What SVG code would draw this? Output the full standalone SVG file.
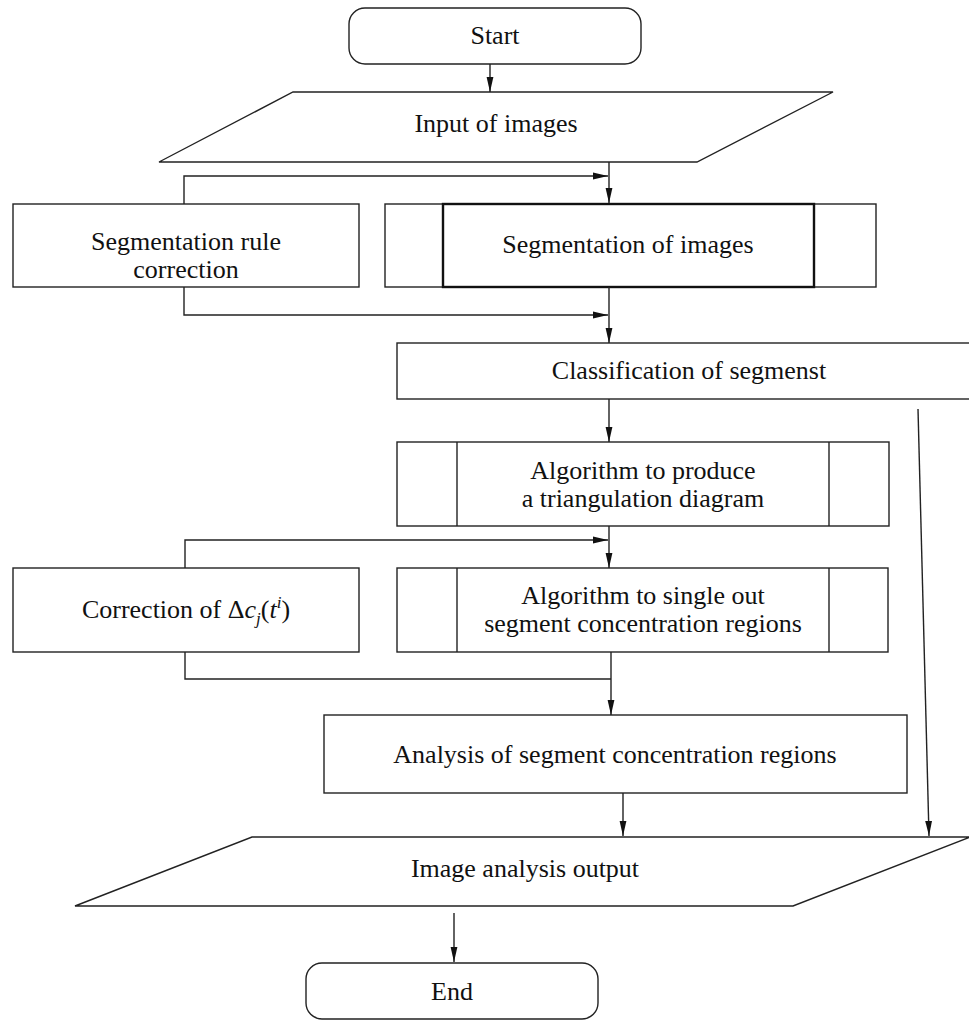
<svg xmlns="http://www.w3.org/2000/svg" width="969" height="1020" viewBox="0 0 969 1020">
<style>
.s{fill:#fff;stroke:#222;stroke-width:1.4}
.thick{fill:none;stroke:#111;stroke-width:2.4}
.ln{fill:none;stroke:#222;stroke-width:1.4}
.t{font-family:"Liberation Serif","Times New Roman",serif;font-size:26px;fill:#111;text-anchor:middle}
.c{fill:none;stroke:#222;stroke-width:1.4}
</style>
<defs>
<marker id="ah" markerWidth="16" markerHeight="8" refX="15" refY="4" orient="auto" markerUnits="userSpaceOnUse">
<path d="M0,0.6 L15,4 L0,7.4 z" fill="#111"/>
</marker>
</defs>
<rect width="969" height="1020" fill="#fff"/>
<g id="start">
<rect class="s" x="349" y="8" width="292" height="56" rx="16"/>
<text class="t" x="495" y="44">Start</text>
</g>
<g id="input">
<polygon class="s" points="293,92 833,92 697,162 159,162"/>
<text class="t" x="496" y="132">Input of images</text>
</g>
<g id="rule">
<rect class="s" x="13" y="204" width="346" height="83"/>
<text class="t" x="186" y="250">Segmentation rule</text>
<text class="t" x="186" y="278">correction</text>
</g>
<g id="seg">
<rect class="s" x="385" y="204" width="491" height="83"/>
<rect class="thick" x="443" y="204" width="371" height="83"/>
<text class="t" x="628" y="253">Segmentation of images</text>
</g>
<g id="classif">
<rect class="s" x="397" y="343" width="590" height="56"/>
<text class="t" x="689" y="379">Classification of segmenst</text>
</g>
<g id="alg1">
<rect class="s" x="397" y="442" width="492" height="84"/>
<line class="ln" x1="457" y1="442" x2="457" y2="526"/>
<line class="ln" x1="829" y1="442" x2="829" y2="526"/>
<text class="t" x="643" y="479">Algorithm to produce</text>
<text class="t" x="643" y="507">a triangulation diagram</text>
</g>
<g id="corr">
<rect class="s" x="13" y="568" width="346" height="84"/>
<text class="t" x="186" y="618">Correction of Δ<tspan font-style="italic">c</tspan><tspan font-style="italic" font-size="17" dy="6">j</tspan><tspan dy="-6">(</tspan><tspan font-style="italic">t</tspan><tspan font-style="italic" font-size="17" dy="-10">i</tspan><tspan dy="10">)</tspan></text>
</g>
<g id="alg2">
<rect class="s" x="397" y="568" width="491" height="84"/>
<line class="ln" x1="457" y1="568" x2="457" y2="652"/>
<line class="ln" x1="829" y1="568" x2="829" y2="652"/>
<text class="t" x="643" y="604">Algorithm to single out</text>
<text class="t" x="643" y="632">segment concentration regions</text>
</g>
<g id="analysis">
<rect class="s" x="324" y="715" width="583" height="78"/>
<text class="t" x="615" y="763">Analysis of segment concentration regions</text>
</g>
<g id="output">
<polygon class="s" points="252,837 970,837 793,906 75,906"/>
<text class="t" x="525" y="877">Image analysis output</text>
</g>
<g id="end">
<rect class="s" x="306" y="963" width="292" height="56" rx="16"/>
<text class="t" x="452" y="1000">End</text>
</g>
<g id="connectors">
<path class="c" d="M490,64 V92" marker-end="url(#ah)"/>
<path class="c" d="M609,162 V203" marker-end="url(#ah)"/>
<path class="c" d="M184,204 V176 H608" marker-end="url(#ah)"/>
<path class="c" d="M609,287 V343" marker-end="url(#ah)"/>
<path class="c" d="M184,287 V315 H608" marker-end="url(#ah)"/>
<path class="c" d="M609,399 V442" marker-end="url(#ah)"/>
<path class="c" d="M609,526 V568" marker-end="url(#ah)"/>
<path class="c" d="M185,568 V540 H608" marker-end="url(#ah)"/>
<path class="c" d="M185,652 V679 H611"/>
<path class="c" d="M611,652 V715" marker-end="url(#ah)"/>
<path class="c" d="M623,793 V836" marker-end="url(#ah)"/>
<path class="c" d="M918,409 L929,836" marker-end="url(#ah)"/>
<path class="c" d="M454,913 V962" marker-end="url(#ah)"/>
</g>
</svg>
